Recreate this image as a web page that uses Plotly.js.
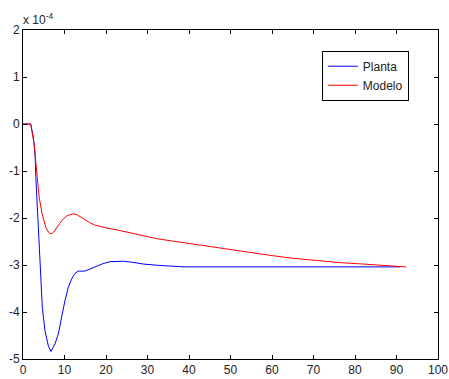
<!DOCTYPE html>
<html>
<head>
<meta charset="utf-8">
<script src="https://cdn.plot.ly/plotly-3.0.1.min.js"></script>
<style>html,body{margin:0;padding:0;background:#fff;}#chart{width:449px;height:379px;}</style>
</head>
<body>
<div id="chart"></div>
<script>
// values in units of 1e-4
const plantaX = [0,1.85,2.5,2.9,3.1,3.3,3.5,3.8,4.0,4.25,4.65,5.3,6.1,6.75,7.7,8.5,9.3,10.1,10.9,11.7,12.5,13.3,14.9,16.9,19.3,21,24.2,27,29,33,37,39,50,70,90.8];
const plantaY = [0,0,-0.28,-0.64,-1.14,-1.49,-1.84,-2.41,-2.8,-3.19,-3.90,-4.40,-4.72,-4.84,-4.68,-4.47,-4.11,-3.76,-3.48,-3.30,-3.18,-3.13,-3.13,-3.06,-2.97,-2.93,-2.92,-2.95,-2.98,-3.01,-3.03,-3.04,-3.04,-3.04,-3.04];
const modeloX = [0,1.85,2.25,2.7,3.05,3.45,3.9,4.6,5.5,6.2,6.75,7.3,8.1,8.9,9.7,10.5,11.3,12.1,13,14.1,15,16.1,17.3,18.6,20,22.5,25.8,28.2,30.6,32.2,36,42.7,48.7,55,60,64.3,70,76.4,82,88.4,92.3];
const modeloY = [0,0,-0.21,-0.43,-0.78,-1.21,-1.56,-1.91,-2.2,-2.31,-2.34,-2.31,-2.2,-2.11,-2.02,-1.96,-1.93,-1.91,-1.93,-1.99,-2.05,-2.1,-2.15,-2.18,-2.21,-2.25,-2.31,-2.36,-2.41,-2.44,-2.49,-2.58,-2.66,-2.74,-2.80,-2.85,-2.90,-2.95,-2.98,-3.02,-3.04];
const xTicks = [0,10,20,30,40,50,60,70,80,90,100];
const yTicks = [-5,-4,-3,-2,-1,0,1,2];
const yTickLabels = ['-5','-4','-3','-2','-1','0','1','2'];

const font = {family: 'Liberation Sans, Arial, sans-serif', size: 12, color: '#222'};
const traces = [
  {x: plantaX, y: plantaY, name: 'Planta', mode: 'lines', line: {color: '#0000ff', width: 1}},
  {x: modeloX, y: modeloY, name: 'Modelo', mode: 'lines', line: {color: '#ff0000', width: 1}}
];
const axisCommon = {showline: true, linecolor: '#000', linewidth: 1, mirror: 'ticks', ticks: 'inside', ticklen: 4, tickcolor: '#000', showgrid: false, zeroline: false, tickfont: font};
const layout = {
  width: 449, height: 379,
  margin: {l: 23, r: 11, t: 30, b: 20},
  paper_bgcolor: '#fff', plot_bgcolor: '#fff',
  showlegend: true,
  legend: {x: 0.72, y: 0.937, xanchor: 'left', yanchor: 'top', bgcolor: '#fff', bordercolor: '#000', borderwidth: 1, font: {family: 'Liberation Sans, Arial, sans-serif', size: 12, color: '#222'}},
  xaxis: Object.assign({}, axisCommon, {range: [0, 100], tickvals: xTicks, ticklabelstandoff: 0}),
  yaxis: Object.assign({}, axisCommon, {range: [-5, 2], tickvals: yTicks, ticktext: yTickLabels}),
  annotations: [{xref: 'paper', yref: 'paper', x: 0, y: 1, xanchor: 'left', yanchor: 'bottom', xshift: -2, yshift: 1, showarrow: false, text: 'x 10<sup>-4</sup>', font: font}]
};
Plotly.newPlot('chart', traces, layout, {displayModeBar: false, staticPlot: true});
</script>
</body>
</html>
